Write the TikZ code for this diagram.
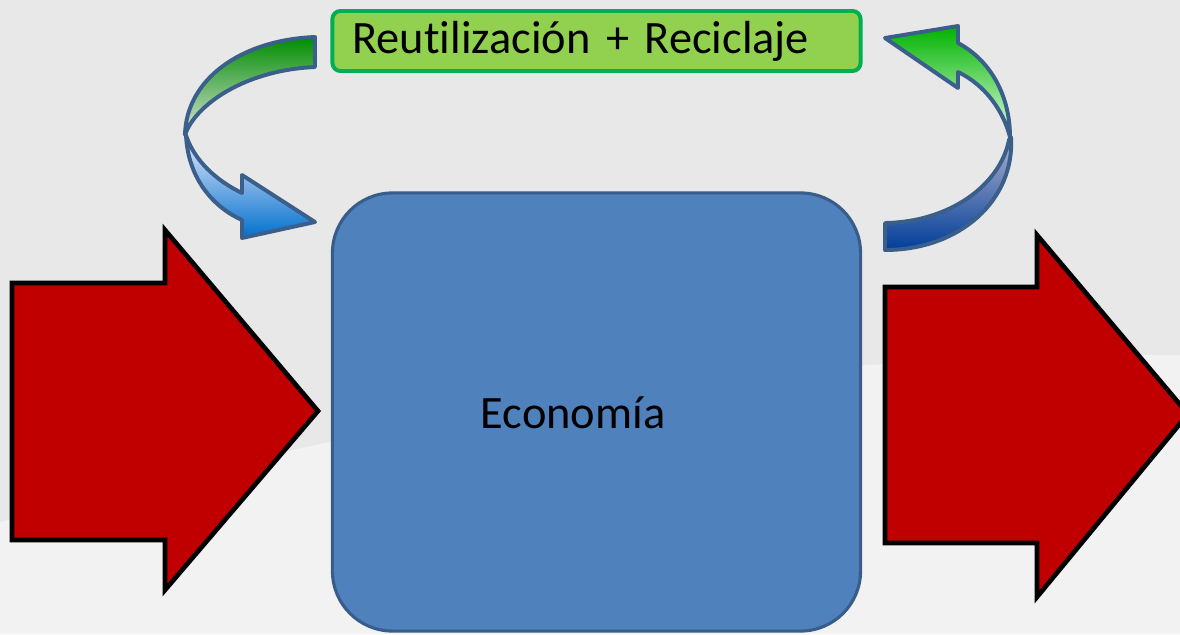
\documentclass[tikz,border=0pt]{standalone}
\usepackage{fontspec}
\setmainfont{Carlito}[Ligatures=NoCommon]
\definecolor{bgtop}{HTML}{E8E8E8}
\definecolor{bglow}{HTML}{F2F2F2}
\definecolor{ecofill}{HTML}{4F81BD}
\definecolor{ecoline}{HTML}{385D8A}
\definecolor{reusefill}{HTML}{92D050}
\definecolor{reuseline}{HTML}{00B050}
\definecolor{darkred}{HTML}{C00000}
\definecolor{ribbonline}{HTML}{3A5F8A}
\begin{document}
\begin{tikzpicture}[x=0.025cm,y=-0.025cm,
  redarrow/.style={fill=darkred,draw=black,line width=3.3pt,line join=miter},
  ribbon/.style={draw=ribbonline,line width=2.8pt,line join=round},
  bigtext/.style={font=\fontsize{33}{40}\selectfont}]
\useasboundingbox (0,0) rectangle (1180,634);
\clip (0,0) rectangle (1180,634);
% background
\fill[bgtop] (0,0) rectangle (1180,634);
\fill[bglow] (0,522) .. controls (200,470) and (500,390) .. (870,365)
  .. controls (1000,357) and (1100,355) .. (1180,355) -- (1180,634) -- (0,634) -- cycle;
% in and out
\draw[redarrow] (12,283) -- (165,283) -- (165,230) -- (318,411) -- (165,590) -- (165,540) -- (12,540) -- cycle;
\draw[redarrow] (885,287) -- (1037,287) -- (1037,235) -- (1188,414) -- (1037,597) -- (1037,543) -- (885,543) -- cycle;
% economy
\node[draw=ecoline,fill=ecofill,line width=2.2pt,rounded corners=1.5cm,
  minimum width=13.2cm,minimum height=10.95cm] (eco) at (596.5,412) {};
\node[bigtext] (ecotext) at (573,413) {Economía};
% loop label
\node[draw=reuseline,fill=reusefill,line width=2.8pt,rounded corners=0.2cm,
  text width=12.2cm,inner xsep=0.5cm,minimum height=1.5cm,align=left,bigtext]
  (reuse) at (596.5,41) {Reutilización + Reciclaje};
% left ribbon
\draw[ribbon,top color=green!55!black,bottom color=green!15!gray!25] (315,37)
  .. controls (240,40) and (186,80) .. (185,135)
  .. controls (195,105) and (245,70) .. (315,67) -- cycle;
\draw[ribbon,top color=blue!8!white,bottom color=blue!45!cyan!80!black] (186,135)
  .. controls (188,180) and (215,208) .. (242,220) -- (242,238) -- (315,222)
  -- (242,175) -- (242,193) .. controls (215,180) and (195,160) .. (187,138) -- cycle;
% right ribbon
\draw[ribbon,top color=green!70!black,bottom color=green!12!white] (958,43)
  -- (958,26) -- (885,38) -- (958,88) -- (958,72)
  .. controls (985,85) and (1003,110) .. (1010,137)
  .. controls (1010,95) and (990,60) .. (958,43) -- cycle;
\draw[ribbon,top color=blue!20!gray!50,bottom color=blue!60!cyan!60!black] (1011,137)
  .. controls (1015,200) and (960,250) .. (885,250) -- (885,223)
  .. controls (950,222) and (1000,185) .. (1009,140) -- cycle;
\end{tikzpicture}
\end{document}
